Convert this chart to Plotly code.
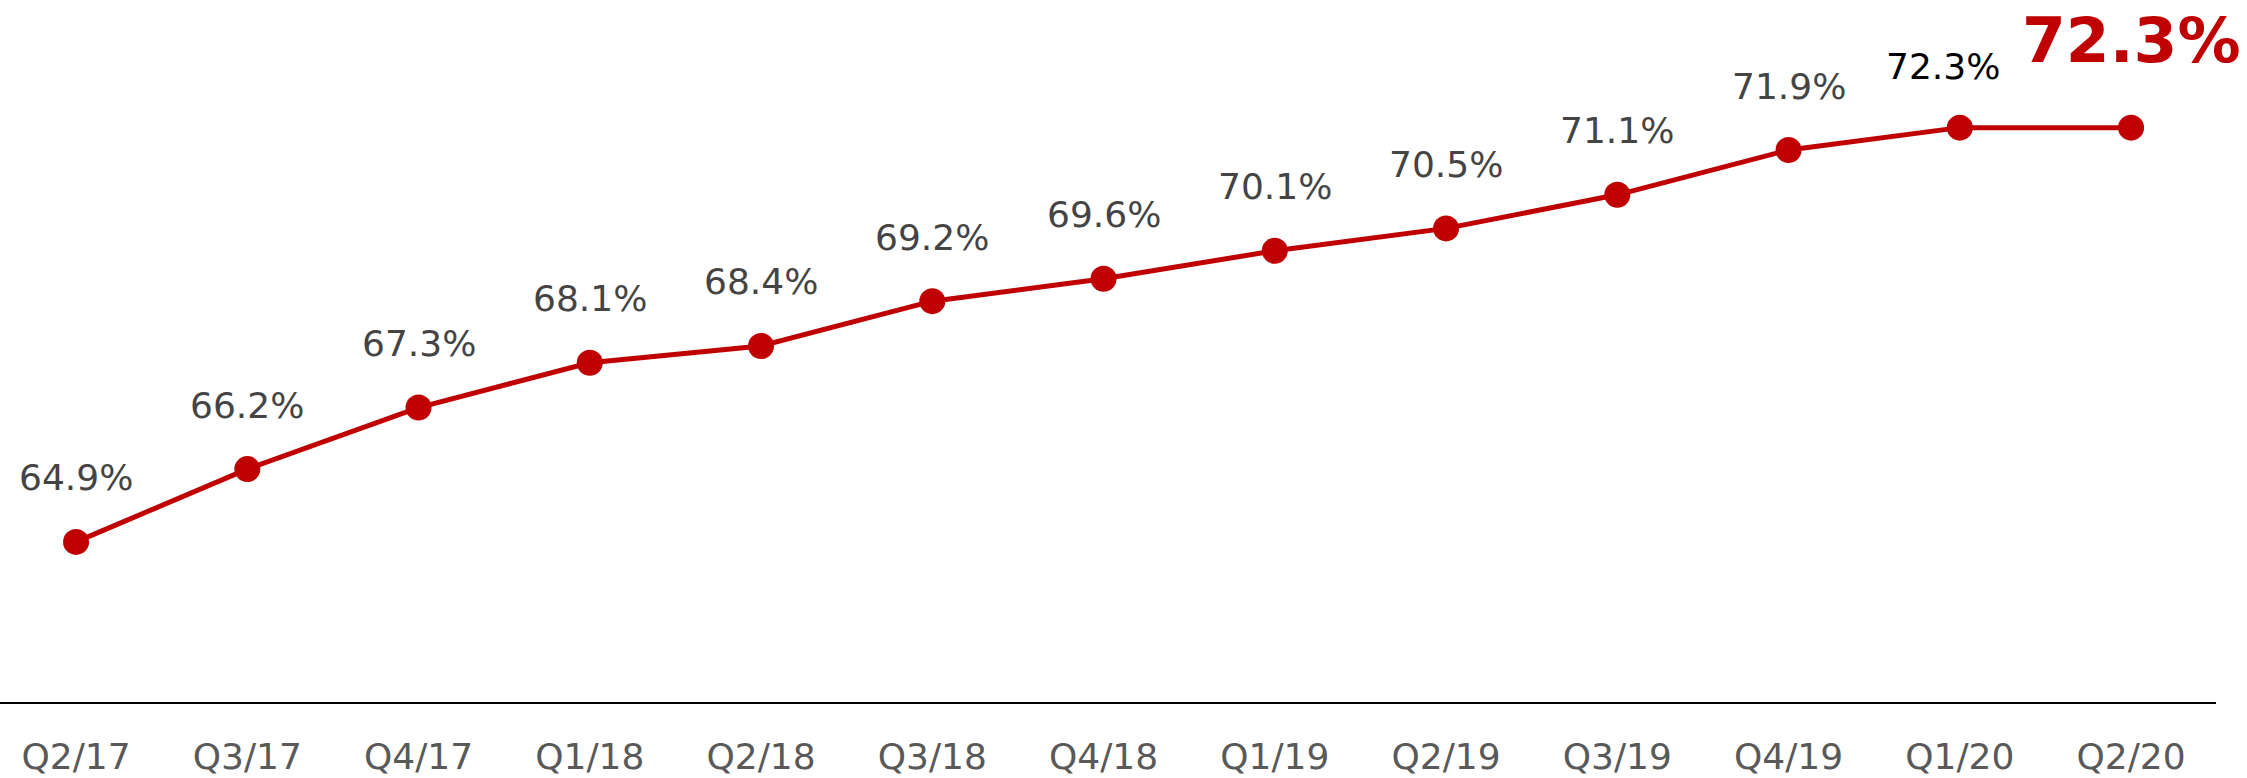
import plotly.graph_objects as go

quarters = ["Q2/17", "Q3/17", "Q4/17", "Q1/18", "Q2/18", "Q3/18", "Q4/18",
            "Q1/19", "Q2/19", "Q3/19", "Q4/19", "Q1/20", "Q2/20"]
share = [64.9, 66.2, 67.3, 68.1, 68.4, 69.2, 69.6, 70.1, 70.5, 71.1, 71.9, 72.3, 72.3]
labels = [f"{v:.1f}%" for v in share]

RED = "#C00000"
FONT = "DejaVu Sans"

xs = list(range(len(quarters)))

fig = go.Figure()
fig.add_trace(go.Scatter(
    x=xs, y=share, mode="lines+markers",
    line=dict(color=RED, width=5),
    marker=dict(color=RED, size=26),
    hoverinfo="skip", showlegend=False,
))

n = len(share)
for i, (v, t) in enumerate(zip(share, labels)):
    if i == n - 1:
        fig.add_annotation(x=i, y=v, text=f"<b>{t}</b>", showarrow=False,
                           yshift=87, yanchor="middle", xanchor="center",
                           font=dict(family=FONT, size=63, color=RED))
    elif i == n - 2:
        fig.add_annotation(x=i, y=v, text=t, showarrow=False,
                           yshift=61, xshift=-17, yanchor="middle", xanchor="center",
                           font=dict(family=FONT, size=36, color="#000000"))
    else:
        fig.add_annotation(x=i, y=v, text=t, showarrow=False,
                           yshift=64, yanchor="middle", xanchor="center",
                           font=dict(family=FONT, size=36, color="#444444"))

fig.update_xaxes(
    tickmode="array", tickvals=xs, ticktext=quarters,
    range=[-0.444, 12.496],
    showline=True, linecolor="#000000", linewidth=2,
    showgrid=False, zeroline=False, ticks="",
    tickfont=dict(family=FONT, size=36, color="#595959"),
    ticklabelstandoff=22,
)
fig.update_yaxes(range=[62.04, 74.58], visible=False, showgrid=False, zeroline=False)

fig.update_layout(
    width=2247, height=778,
    margin=dict(l=0, r=31, t=0, b=76),
    plot_bgcolor="white", paper_bgcolor="white",
    font=dict(family=FONT),
)

fig.write_html("out.html", config={"displayModeBar": False},
               post_script="document.body.style.margin='0';")
